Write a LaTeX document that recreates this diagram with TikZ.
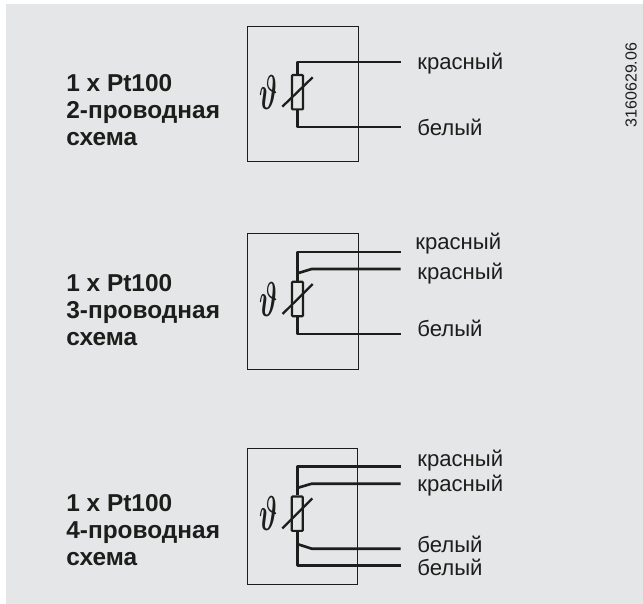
\documentclass[tikz,border=0pt]{standalone}
\usepackage{fontspec}
\setmainfont{Liberation Sans}
\usetikzlibrary{positioning}
\definecolor{panelgray}{HTML}{E5E6E8}
\definecolor{inkgray}{HTML}{1D1D1B}
\newcommand{\thetamark}{\scalebox{0.6}[1.12]{$\vartheta$}}
\tikzset{
	sensorbox/.style={draw=inkgray, line width=0.55pt, inner sep=0, minimum width=2.216cm, minimum height=2.72cm},
	resistor/.style={draw=inkgray, line width=1.2pt, rounded corners=0.5pt, fill=panelgray, inner sep=0, minimum width=0.22cm, minimum height=0.69cm},
	wire/.style={draw=inkgray, line width=1.5pt, line join=round},
	slash/.style={draw=inkgray, line width=1.3pt},
	schemename/.style={anchor=west, align=left, inner sep=0, text=inkgray, font=\fontsize{13.9}{15.3}\selectfont\bfseries},
	colorname/.style={anchor=west, inner sep=0, text=inkgray, font=\fontsize{12.6}{14}\selectfont},
	thetasign/.style={inner sep=0, text=inkgray, font=\fontsize{24}{24}\selectfont\boldmath}
}

\begin{document}
\begin{tikzpicture}
[x=0.02cm, y=-0.02cm]

\useasboundingbox (0,0) rectangle (643,604);
\fill[panelgray] (6,4) rectangle (643,604);

\node[rotate=90, inner sep=0, text=inkgray, font=\fontsize{9.1}{10}\selectfont] (docnumber) at(631,85) {3160629.06};

% 2 wires
\node[schemename] (name1) at(66,110) {1 x Pt100\\2-проводная\\схема};
\node[sensorbox] (box1) at(302.8,94) {};
\coordinate (end1a) at(400.7,62);
\coordinate (end1b) at(400.7,127);
\node[resistor] (res1) at(297.5,92.2) {};
\draw[wire] (res1.north) |- (end1a);
\draw[wire] (res1.south) |- (end1b);
\coordinate (slash1a) at(282.3,106.7);
\coordinate (slash1b) at(312.7,77.3);
\draw[slash] (slash1a) -- (slash1b);
\node[thetasign] (theta1) at(269,92.7) {\thetamark};
\node[colorname] (label1a) at(417,64) {красный};
\node[colorname] (label1b) at(417,127) {белый};

% 3 wires
\node[schemename] (name2) at(66,310) {1 x Pt100\\3-проводная\\схема};
\node[sensorbox] (box2) at(302.8,301.2) {};
\coordinate (end2a) at(400.7,252);
\coordinate (end2b) at(400.7,269);
\coordinate (end2c) at(400.7,334);
\coordinate (bend2b) at(311.7,269);
\node[resistor] (res2) at(297.5,299) {};
\coordinate (tap2b) at(297.5,273.3);
\draw[wire] (res2.north) |- (end2a);
\draw[wire] (tap2b) -- (bend2b) -- (end2b);
\draw[wire] (res2.south) |- (end2c);
\coordinate (slash2a) at(282.6,314);
\coordinate (slash2b) at(312.7,284);
\draw[slash] (slash2a) -- (slash2b);
\node[thetasign] (theta2) at(269,299.5) {\thetamark};
\node[colorname] (label2a) at(415,244) {красный};
\node[colorname] (label2b) at(417,274) {красный};
\node[colorname] (label2c) at(417,328) {белый};

% 4 wires
\node[schemename] (name3) at(66,530) {1 x Pt100\\4-проводная\\схема};
\node[sensorbox] (box3) at(302.5,516) {};
\coordinate (end3a) at(400.7,466.7);
\coordinate (end3b) at(400.7,483.7);
\coordinate (end3c) at(400.7,548.7);
\coordinate (end3d) at(400.7,565.7);
\coordinate (bend3b) at(311.7,483.7);
\coordinate (bend3c) at(311.7,548.7);
\node[resistor] (res3) at(297.2,513.7) {};
\coordinate (tap3b) at(297.2,488);
\coordinate (tap3c) at(297.2,544);
\draw[wire] (res3.north) |- (end3a);
\draw[wire] (tap3b) -- (bend3b) -- (end3b);
\draw[wire] (tap3c) -- (bend3c) -- (end3c);
\draw[wire] (res3.south) |- (end3d);
\coordinate (slash3a) at(282.3,528.5);
\coordinate (slash3b) at(312.3,498.5);
\draw[slash] (slash3a) -- (slash3b);
\node[thetasign] (theta3) at(269,514) {\thetamark};
\node[colorname] (label3a) at(417,461) {красный};
\node[colorname] (label3b) at(417,486) {красный};
\node[colorname] (label3c) at(417,544) {белый};
\node[colorname] (label3d) at(417,567) {белый};
\end{tikzpicture}
\end{document}
